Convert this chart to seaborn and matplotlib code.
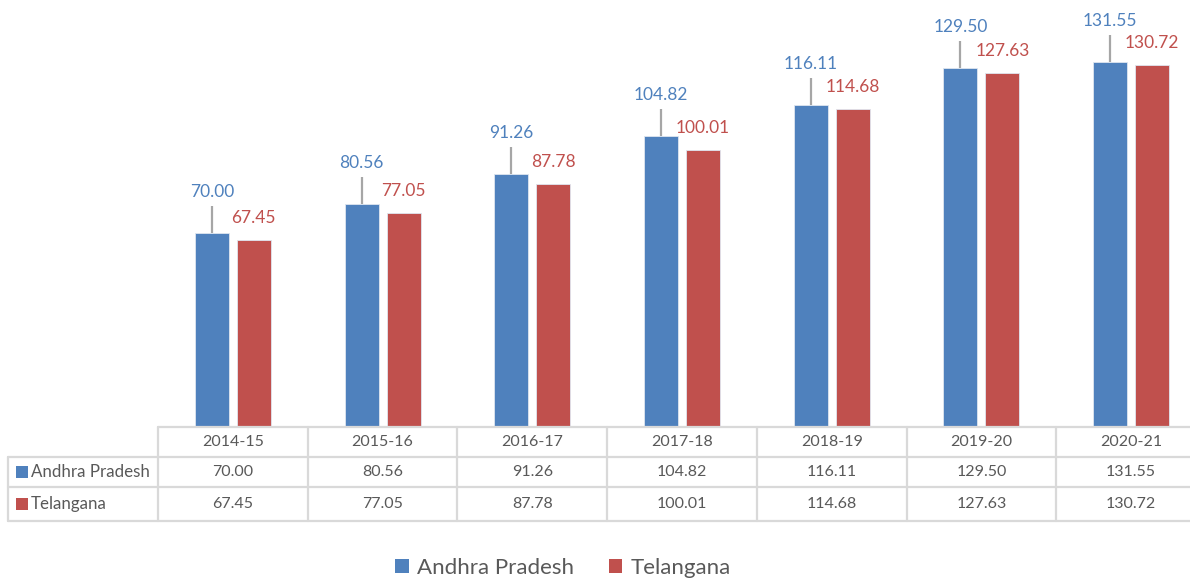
import matplotlib
matplotlib.use("Agg")
import matplotlib.pyplot as plt
from matplotlib.lines import Line2D
from matplotlib.patches import Rectangle
import seaborn as sns
import pandas as pd

years = ["2014-15", "2015-16", "2016-17", "2017-18", "2018-19", "2019-20", "2020-21"]
andhra = [70.00, 80.56, 91.26, 104.82, 116.11, 129.50, 131.55]
telangana = [67.45, 77.05, 87.78, 100.01, 114.68, 127.63, 130.72]
states = ["Andhra Pradesh", "Telangana"]
colors = ["#4F81BD", "#C0504D"]

sns.set_style("white")
plt.rcParams["font.family"] = ["Lato", "DejaVu Sans"]

df = pd.DataFrame({
    "Year": years * 2,
    "Value": andhra + telangana,
    "State": [states[0]] * len(years) + [states[1]] * len(years),
})

W, H = 1190, 579
fig = plt.figure(figsize=(W / 100, H / 100), dpi=100)
# the plot area runs slightly past the right edge of the canvas
ax_left, ax_right, ax_bottom = 158, 1206, 427
ax = fig.add_axes([ax_left / W, 1 - ax_bottom / H, (ax_right - ax_left) / W, ax_bottom / H])

sns.barplot(data=df, x="Year", y="Value", hue="State", palette=colors,
            saturation=1, width=0.56, gap=0.19, edgecolor="#dfe6f0",
            linewidth=0.6, legend=False, ax=ax)
ax.set_xlim(-0.5, len(years) - 0.5)
ax.set_ylim(0, 154)
ax.set_xlabel("")
ax.set_ylabel("")
ax.set_xticks([])
ax.set_yticks([])
for s in ax.spines.values():
    s.set_visible(False)

# value labels: blue ones lifted with a leader line, red ones just above the bar
px_per_unit = ax_bottom / 154.0
for cont, col, series in zip(ax.containers, colors, [andhra, telangana]):
    for bar, v in zip(cont.patches, series):
        xc = bar.get_x() + bar.get_width() / 2
        if col == colors[0]:
            line_top = v + 27 / px_per_unit
            ax.plot([xc, xc], [v, line_top], color="#a6a6a6", lw=1.6,
                    clip_on=False, solid_capstyle="butt")
            ax.text(xc, v + 41 / px_per_unit, f"{v:.2f}", color=col,
                    ha="center", va="center", fontsize=12.5)
        else:
            ax.text(xc, v + 22 / px_per_unit, f"{v:.2f}", color=col,
                    ha="center", va="center", fontsize=12.5)

# data table beneath the plot
trans = ax.get_xaxis_transform()
def yf(py):
    return -(py - ax_bottom) / ax_bottom

grid = "#d9d9d9"
txt = "#595959"
row_edges = [427, 457, 487, 521]
left_x = -0.5 - (ax_left - 8) / ((ax_right - ax_left) / len(years))

def hline(x0, x1, py):
    ax.add_line(Line2D([x0, x1], [yf(py), yf(py)], transform=trans,
                       color=grid, lw=1.6, clip_on=False))

def vline(x, py0, py1):
    ax.add_line(Line2D([x, x], [yf(py0), yf(py1)], transform=trans,
                       color=grid, lw=1.6, clip_on=False))

hline(-0.5, len(years) - 0.5, row_edges[0])
for py in row_edges[1:]:
    hline(left_x, len(years) - 0.5, py)
for i in range(len(years) + 1):
    vline(i - 0.5, row_edges[0], row_edges[-1])
vline(left_x, row_edges[1], row_edges[-1])

for i, yr in enumerate(years):
    ax.text(i, yf((row_edges[0] + row_edges[1]) / 2), yr, transform=trans,
            ha="center", va="center", fontsize=11.5, color=txt)
    ax.text(i, yf((row_edges[1] + row_edges[2]) / 2), f"{andhra[i]:.2f}",
            transform=trans, ha="center", va="center", fontsize=11.5, color=txt)
    ax.text(i, yf((row_edges[2] + row_edges[3]) / 2), f"{telangana[i]:.2f}",
            transform=trans, ha="center", va="center", fontsize=11.5, color=txt)

for r, (name, col) in enumerate(zip(states, colors)):
    cy = (row_edges[r + 1] + row_edges[r + 2]) / 2
    fig.add_artist(Rectangle((16 / W, 1 - (cy + 6) / H), 12 / W, 12 / H,
                             transform=fig.transFigure, color=col, lw=0))
    fig.text(31 / W, 1 - cy / H, name, ha="left", va="center",
             fontsize=12.2, color=txt)

# legend
handles = [Rectangle((0, 0), 1, 1, color=c, lw=0) for c in colors]
fig.legend(handles, states, loc="center", bbox_to_anchor=(563 / W, 1 - 568 / H),
           ncol=2, frameon=False, fontsize=16, handlelength=0.6,
           handleheight=0.6, handletextpad=0.35, columnspacing=1.6,
           labelcolor=txt)

fig.savefig("out.png", dpi=100, facecolor="white")
